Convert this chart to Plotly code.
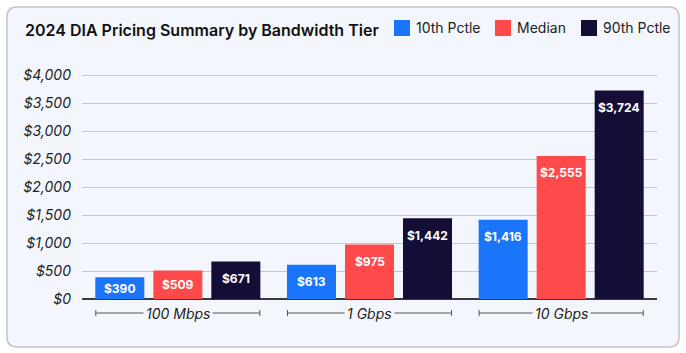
import plotly.graph_objects as go

# ---- data ----
categories = ["100 Mbps", "1 Gbps", "10 Gbps"]
series_names = ["10th Pctle", "Median", "90th Pctle"]
p10 = [390, 613, 1416]
median = [509, 975, 2555]
p90 = [671, 1442, 3724]
y_ticks = [0, 500, 1000, 1500, 2000, 2500, 3000, 3500, 4000]

colors = ["#1A75FB", "#FF4A4B", "#140E37"]
card_bg = "#F3F7FD"
FONT = "Inter"

# ---- layout geometry (pixels) ----
W, H = 686, 353
ML, MR, MT, MB = 82, 29, 65, 54
PW, PH = W - ML - MR, H - MT - MB
YMAX = 4178.6
BARGAP, GROUPGAP = 0.092, 0.155


def px(x):
    return (x - ML) / PW


def py(y):
    return (H - MB - y) / PH


fig = go.Figure()
for name, vals, col in zip(series_names, [p10, median, p90], colors):
    fig.add_trace(go.Bar(x=categories, y=vals, name=name, marker_color=col,
                         marker_line_width=0, showlegend=False,
                         hoverinfo="skip"))

shapes = []
annotations = []

# card background with rounded corners
x0, x1, y0, y1 = 7, 679, 7, 347
r = 10
rx, ry = r / PW, r / PH
X0, X1, Y0, Y1 = px(x0), px(x1), py(y1), py(y0)
path = (f"M{X0+rx},{Y1} L{X1-rx},{Y1} Q{X1},{Y1} {X1},{Y1-ry} "
        f"L{X1},{Y0+ry} Q{X1},{Y0} {X1-rx},{Y0} L{X0+rx},{Y0} "
        f"Q{X0},{Y0} {X0},{Y0+ry} L{X0},{Y1-ry} Q{X0},{Y1} {X0+rx},{Y1} Z")
shapes.append(dict(type="path", path=path, xref="paper", yref="paper",
                   fillcolor=card_bg, line=dict(color="#C2C4C8", width=1.5),
                   layer="below"))

# title
annotations.append(dict(text="2024 DIA Pricing Summary by Bandwidth Tier",
                        xref="paper", yref="paper", x=px(23), y=py(30),
                        xanchor="left", yanchor="middle", showarrow=False,
                        font=dict(family=FONT, size=16, weight=600,
                                  color="#111111")))

# manual legend
leg_x = [394, 495, 581]
for lx, name, col in zip(leg_x, series_names, colors):
    shapes.append(dict(type="rect", xref="paper", yref="paper",
                       x0=px(lx), x1=px(lx + 16), y0=py(36), y1=py(20),
                       fillcolor=col, line=dict(width=0)))
    annotations.append(dict(text=name, xref="paper", yref="paper",
                            x=px(lx + 20), y=py(28), xanchor="left",
                            yanchor="middle", showarrow=False,
                            font=dict(family=FONT, size=14, weight=400,
                                      color="#222222")))

# category brackets + labels
half = 0.428
by = py(313)
for i, cat in enumerate(categories):
    shapes.append(dict(type="line", xref="x", yref="paper", x0=i - half,
                       x1=i + half, y0=by, y1=by,
                       line=dict(color="#555555", width=1)))
    for e in (i - half, i + half):
        shapes.append(dict(type="line", xref="x", yref="paper", x0=e, x1=e,
                           y0=py(310), y1=py(316),
                           line=dict(color="#555555", width=1)))
    annotations.append(dict(text=cat, xref="x", yref="paper", x=cat, y=by,
                            xanchor="center", yanchor="middle",
                            showarrow=False, bgcolor=card_bg, borderpad=2,
                            font=dict(family=FONT, size=14, color="#222222",
                                      style="italic")))

# value labels inside bars
cat_px = PW / len(categories)
slot = cat_px * (1 - BARGAP) / len(series_names)
ppu = PH / YMAX
for s, vals in enumerate([p10, median, p90]):
    off = (s - 1) * slot
    for cat, v in zip(categories, vals):
        h = v * ppu
        annotations.append(dict(text=f"${v:,}", x=cat, y=v, xref="x",
                                yref="y", xshift=off, yshift=-min(17, h / 2),
                                xanchor="center", yanchor="middle",
                                showarrow=False,
                                font=dict(family=FONT, size=12, weight=700,
                                          color="#FFFFFF")))

fig.update_layout(
    width=W, height=H,
    margin=dict(l=ML, r=MR, t=MT, b=MB),
    paper_bgcolor="#FFFFFF", plot_bgcolor="rgba(0,0,0,0)",
    barmode="group", bargap=BARGAP, bargroupgap=GROUPGAP,
    shapes=shapes, annotations=annotations,
    xaxis=dict(showticklabels=False, showgrid=False, zeroline=False,
               showline=False, ticks="", fixedrange=True),
    yaxis=dict(range=[0, YMAX], tickvals=y_ticks,
               ticktext=[f"${t:,}" for t in y_ticks],
               showgrid=True, gridcolor="#C4C6C9", gridwidth=1,
               zeroline=True, zerolinecolor="#3A3A3A", zerolinewidth=2,
               showline=False, ticks="", ticklabelstandoff=10,
               tickfont=dict(family=FONT, size=14, color="#222222",
                             style="italic"), fixedrange=True),
    showlegend=False,
)

fig.write_html("out.html", config={"displayModeBar": False})
